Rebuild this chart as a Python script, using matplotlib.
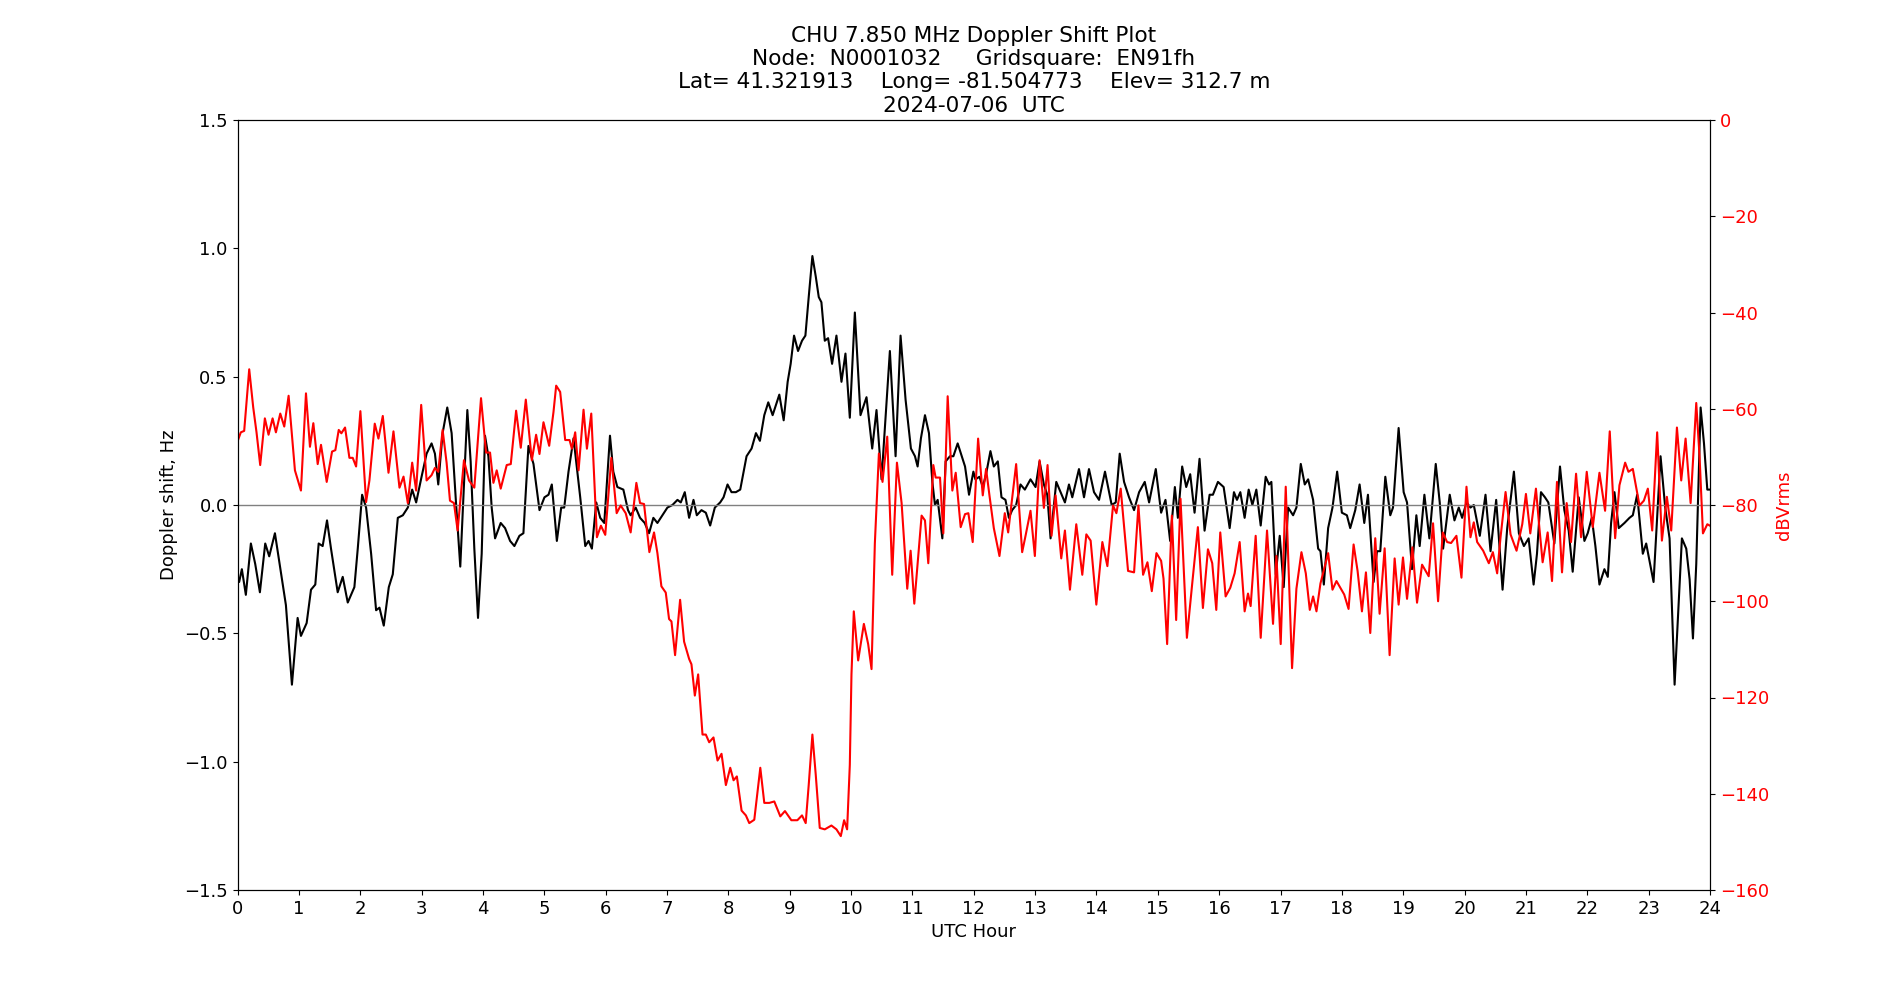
import matplotlib
matplotlib.use("Agg")
import matplotlib.pyplot as plt

plt.rcParams["font.size"] = 13

# ---- Doppler shift (Hz) vs UTC hour ----
dop_hours = [
    0.000, 0.027, 0.071, 0.136, 0.218, 0.289, 0.365, 0.452, 0.517, 0.610, 0.680, 0.789, 0.887, 0.980,
    1.034, 1.127, 1.198, 1.268, 1.323, 1.388, 1.459, 1.524, 1.633, 1.715, 1.797, 1.905, 1.960, 2.031,
    2.096, 2.178, 2.259, 2.314, 2.384, 2.466, 2.531, 2.613, 2.695, 2.776, 2.847, 2.912,
    3.000, 3.082, 3.163, 3.218, 3.272, 3.343, 3.419, 3.490, 3.561, 3.631, 3.691, 3.746, 3.800, 3.860,
    3.920, 3.980, 4.034, 4.089, 4.143, 4.198, 4.290, 4.361, 4.443, 4.513, 4.595, 4.660, 4.742, 4.824,
    4.922, 5.003, 5.069, 5.123, 5.205, 5.276, 5.325, 5.395, 5.477, 5.586, 5.668, 5.722, 5.776, 5.847,
    5.912, 5.978,
    6.071, 6.125, 6.191, 6.289, 6.365, 6.408, 6.490, 6.561, 6.637, 6.708, 6.778, 6.844, 6.925, 7.007,
    7.089, 7.171, 7.225, 7.290, 7.361, 7.432, 7.486, 7.562, 7.633, 7.704, 7.780, 7.867, 7.922, 7.987,
    8.052, 8.123, 8.194, 8.297, 8.379, 8.450, 8.515, 8.586, 8.651, 8.722, 8.831, 8.902, 8.967,
    9.016, 9.071, 9.136, 9.201, 9.256, 9.310, 9.370, 9.425, 9.474, 9.517, 9.572, 9.626, 9.691, 9.762,
    9.844, 9.909, 9.980, 10.062, 10.154, 10.252, 10.345, 10.415, 10.497, 10.562, 10.633, 10.726,
    10.807, 10.889, 10.976, 11.042, 11.085, 11.139, 11.205, 11.270, 11.325, 11.368, 11.412, 11.488,
    11.542, 11.613, 11.668, 11.738, 11.804, 11.858, 11.923, 11.994,
    12.027, 12.093, 12.147, 12.201, 12.272, 12.327, 12.392, 12.452, 12.517, 12.572, 12.626, 12.691,
    12.762, 12.833, 12.925, 13.007, 13.073, 13.143, 13.198, 13.252, 13.345, 13.415, 13.486, 13.552,
    13.606, 13.715, 13.797, 13.878, 13.960, 14.042, 14.139, 14.248, 14.314, 14.379, 14.450, 14.531,
    14.613, 14.695, 14.787, 14.858, 14.967,
    15.054, 15.125, 15.201, 15.278, 15.327, 15.397, 15.463, 15.528, 15.599, 15.680, 15.762, 15.844,
    15.898, 15.980, 16.073, 16.171, 16.241, 16.290, 16.345, 16.415, 16.481, 16.541, 16.606, 16.677,
    16.758, 16.813, 16.851, 16.922, 16.987, 17.052, 17.123, 17.205, 17.259, 17.330, 17.395, 17.450,
    17.531, 17.613, 17.651, 17.706, 17.776, 17.847, 17.923,
    18.000, 18.082, 18.136, 18.218, 18.289, 18.365, 18.425, 18.517, 18.572, 18.626, 18.708, 18.789,
    18.833, 18.925, 19.007, 19.062, 19.143, 19.214, 19.268, 19.345, 19.426, 19.530, 19.595, 19.650,
    19.758, 19.835, 19.905, 19.960, 20.031, 20.096, 20.150, 20.248, 20.341, 20.423, 20.515, 20.619,
    20.695, 20.804, 20.885, 20.967,
    21.044, 21.125, 21.180, 21.245, 21.310, 21.365, 21.463, 21.555, 21.626, 21.697, 21.762, 21.860,
    21.953, 22.007, 22.073, 22.132, 22.198, 22.279, 22.334, 22.388, 22.443, 22.513, 22.606, 22.688,
    22.742, 22.813, 22.905, 22.960, 23.080, 23.194, 23.270, 23.341, 23.423, 23.477, 23.542, 23.613,
    23.668, 23.722, 23.776, 23.847, 23.902, 23.956, 24.000,
]
dop_hz = [
    -0.29, -0.30, -0.25, -0.35, -0.15, -0.23, -0.34, -0.15, -0.20, -0.11, -0.22, -0.39, -0.70, -0.44,
    -0.51, -0.46, -0.33, -0.31, -0.15, -0.16, -0.06, -0.17, -0.34, -0.28, -0.38, -0.32, -0.17, 0.04,
    -0.01, -0.19, -0.41, -0.40, -0.47, -0.32, -0.27, -0.05, -0.04, -0.01, 0.06, 0.01,
    0.11, 0.20, 0.24, 0.20, 0.08, 0.28, 0.38, 0.28, 0.01, -0.24, 0.08, 0.37, 0.17, -0.17,
    -0.44, -0.19, 0.27, 0.19, -0.01, -0.13, -0.07, -0.09, -0.14, -0.16, -0.12, -0.11, 0.23, 0.16,
    -0.02, 0.03, 0.04, 0.08, -0.14, -0.01, -0.01, 0.13, 0.26, 0.03, -0.16, -0.14, -0.17, 0.01,
    -0.05, -0.07,
    0.27, 0.13, 0.07, 0.06, -0.02, -0.04, -0.01, -0.05, -0.07, -0.11, -0.05, -0.07, -0.04, -0.01,
    0.00, 0.02, 0.01, 0.05, -0.05, 0.02, -0.04, -0.02, -0.03, -0.08, -0.01, 0.01, 0.03, 0.08,
    0.05, 0.05, 0.06, 0.19, 0.22, 0.28, 0.25, 0.35, 0.40, 0.35, 0.43, 0.33, 0.48,
    0.55, 0.66, 0.60, 0.64, 0.66, 0.81, 0.97, 0.89, 0.81, 0.79, 0.64, 0.65, 0.55, 0.66,
    0.48, 0.59, 0.34, 0.75, 0.35, 0.42, 0.22, 0.37, 0.10, 0.34, 0.60, 0.19,
    0.66, 0.41, 0.22, 0.19, 0.15, 0.26, 0.35, 0.28, 0.09, 0.00, 0.02, -0.13,
    0.17, 0.19, 0.19, 0.24, 0.19, 0.15, 0.04, 0.13,
    0.10, 0.11, 0.07, 0.12, 0.21, 0.15, 0.17, 0.03, 0.02, -0.05, -0.02, 0.00,
    0.08, 0.06, 0.10, 0.07, 0.17, 0.08, 0.04, -0.13, 0.09, 0.05, 0.01, 0.08,
    0.03, 0.14, 0.03, 0.14, 0.05, 0.02, 0.13, 0.00, 0.01, 0.20, 0.09, 0.03,
    -0.02, 0.05, 0.09, 0.01, 0.14,
    -0.03, 0.02, -0.14, 0.07, -0.05, 0.15, 0.07, 0.12, -0.03, 0.18, -0.10, 0.04,
    0.04, 0.09, 0.07, -0.09, 0.05, 0.02, 0.05, -0.05, 0.06, 0.00, 0.06, -0.08,
    0.11, 0.08, 0.09, -0.27, -0.12, -0.32, -0.01, -0.04, -0.01, 0.16, 0.08, 0.10,
    0.02, -0.17, -0.18, -0.31, -0.09, -0.01, 0.13,
    -0.03, -0.04, -0.09, -0.02, 0.08, -0.07, 0.04, -0.30, -0.18, -0.18, 0.11, -0.04,
    -0.01, 0.30, 0.05, 0.01, -0.25, -0.04, -0.16, 0.04, -0.13, 0.16, 0.01, -0.17,
    0.04, -0.06, -0.01, -0.05, 0.01, -0.01, 0.00, -0.12, 0.04, -0.18, 0.02, -0.33,
    -0.09, 0.13, -0.11, -0.16,
    -0.13, -0.31, -0.19, 0.05, 0.03, 0.01, -0.15, 0.15, -0.02, -0.10, -0.26, 0.03,
    -0.14, -0.11, -0.05, -0.16, -0.31, -0.25, -0.28, -0.07, 0.05, -0.09, -0.07, -0.05,
    -0.04, 0.04, -0.19, -0.15, -0.30, 0.19, -0.01, -0.13, -0.70, -0.44, -0.13, -0.17,
    -0.29, -0.52, -0.23, 0.38, 0.24, 0.06, 0.06,
]

# ---- Signal level (dBVrms) vs UTC hour ----
amp_hours = [
    0.000, 0.054, 0.109, 0.191, 0.256, 0.310, 0.370, 0.446, 0.506, 0.572, 0.626, 0.697, 0.762, 0.833,
    0.936, 1.034, 1.116, 1.181, 1.236, 1.307, 1.361, 1.454, 1.541, 1.595, 1.650, 1.693, 1.753, 1.824,
    1.878, 1.933, 2.003, 2.096, 2.150, 2.237, 2.297, 2.368, 2.461, 2.542, 2.640, 2.706, 2.776, 2.847,
    2.912, 2.994,
    3.082, 3.163, 3.218, 3.272, 3.343, 3.408, 3.463, 3.528, 3.588, 3.691, 3.773, 3.860, 3.969, 4.051,
    4.116, 4.171, 4.225, 4.290, 4.388, 4.454, 4.541, 4.617, 4.699, 4.797, 4.867, 4.922, 4.987, 5.080,
    5.150, 5.194, 5.259, 5.341, 5.412, 5.450, 5.504, 5.559, 5.640, 5.695, 5.766, 5.858, 5.923, 5.994,
    6.093, 6.180, 6.245, 6.327, 6.408, 6.501, 6.561, 6.626, 6.713, 6.789, 6.844, 6.909, 6.980, 7.034,
    7.073, 7.132, 7.214, 7.279, 7.361, 7.399, 7.454, 7.508, 7.579, 7.633, 7.688, 7.758, 7.824, 7.889,
    7.960, 8.031, 8.085, 8.139, 8.216, 8.286, 8.341, 8.423, 8.521, 8.586, 8.668, 8.749, 8.847, 8.923,
    9.027, 9.125, 9.201, 9.261, 9.310, 9.370, 9.425, 9.490, 9.572, 9.680, 9.762, 9.833, 9.887, 9.936,
    9.980, 10.007, 10.045, 10.116, 10.209, 10.279, 10.334, 10.388, 10.454, 10.513, 10.590, 10.671,
    10.748, 10.824, 10.916, 10.971, 11.031, 11.150, 11.205, 11.259, 11.341, 11.379, 11.450, 11.504,
    11.575, 11.651, 11.706, 11.787, 11.858, 11.912, 11.983,
    12.071, 12.147, 12.201, 12.256, 12.327, 12.419, 12.506, 12.561, 12.691, 12.789, 12.844, 12.925,
    12.996, 13.073, 13.143, 13.203, 13.268, 13.334, 13.426, 13.486, 13.568, 13.671, 13.769, 13.835,
    13.905, 13.998, 14.096, 14.178, 14.270, 14.325, 14.395, 14.515, 14.613, 14.684, 14.760, 14.831,
    14.902, 14.978,
    15.054, 15.093, 15.152, 15.229, 15.299, 15.370, 15.474, 15.561, 15.653, 15.735, 15.817, 15.887,
    15.953, 16.018, 16.105, 16.181, 16.252, 16.334, 16.415, 16.470, 16.513, 16.595, 16.677, 16.780,
    16.878, 16.933, 17.003, 17.085, 17.188, 17.259, 17.341, 17.412, 17.477, 17.531, 17.586, 17.651,
    17.776, 17.847, 17.912,
    18.038, 18.109, 18.191, 18.256, 18.327, 18.392, 18.463, 18.544, 18.615, 18.697, 18.778, 18.860,
    18.925, 18.996, 19.062, 19.149, 19.225, 19.307, 19.415, 19.486, 19.568, 19.644, 19.715, 19.780,
    19.867, 19.949, 20.031, 20.096, 20.150, 20.205, 20.303, 20.395, 20.461, 20.531, 20.586, 20.668,
    20.749, 20.847, 20.940,
    21.000, 21.071, 21.163, 21.218, 21.272, 21.354, 21.425, 21.506, 21.588, 21.664, 21.735, 21.817,
    21.898, 21.991, 22.089, 22.198, 22.290, 22.366, 22.454, 22.524, 22.617, 22.671, 22.742, 22.851,
    22.922, 22.987, 23.058, 23.139, 23.216, 23.297, 23.368, 23.461, 23.531, 23.602, 23.684, 23.776,
    23.831, 23.885, 23.956, 24.000,
]
amp_db = [
    -66.8, -64.9, -64.6, -51.8, -59.7, -64.9, -71.7, -62.0, -65.4, -62.0, -64.9, -61.0, -63.7, -57.3,
    -72.8, -77.0, -56.8, -67.9, -63.0, -71.5, -67.5, -75.2, -68.9, -68.6, -64.4, -65.1, -63.9, -70.2,
    -70.2, -72.0, -60.5, -79.4, -74.9, -63.1, -66.2, -61.5, -73.3, -64.7, -76.4, -74.1, -79.6, -71.2,
    -77.0, -59.2,
    -74.9, -73.8, -72.3, -73.1, -64.4, -71.2, -79.1, -79.6, -85.3, -70.7, -74.9, -76.4, -57.8, -69.1,
    -69.1, -75.4, -72.8, -76.6, -71.7, -71.5, -60.4, -68.1, -58.1, -70.7, -65.4, -69.4, -62.8, -67.7,
    -60.7, -55.2, -56.5, -66.5, -66.5, -68.3, -64.9, -72.8, -60.2, -68.3, -61.0, -86.7, -84.3, -86.2,
    -70.2, -81.7, -80.1, -81.7, -85.7, -75.4, -79.6, -79.8, -89.8, -85.7, -90.0, -96.9, -98.2, -103.7,
    -104.2, -111.2, -99.7, -108.4, -112.0, -113.1, -119.6, -115.2, -127.7, -127.7, -129.3, -128.3, -133.1, -131.7,
    -138.2, -134.6, -137.2, -136.4, -143.5, -144.5, -146.1, -145.4, -134.6, -141.9, -141.9, -141.6, -144.7, -143.6,
    -145.5, -145.5, -144.5, -146.1, -138.2, -127.7, -136.1, -147.1, -147.4, -146.6, -147.4, -148.8, -145.5, -147.4,
    -134.0, -115.2, -102.1, -112.3, -104.7, -108.9, -114.1, -88.0, -69.3, -75.2, -65.8, -94.5,
    -71.2, -79.6, -97.4, -89.5, -100.5, -82.2, -83.2, -92.1, -71.7, -74.3, -74.3, -85.9,
    -57.4, -77.0, -73.3, -84.6, -81.9, -81.7, -87.7,
    -66.2, -78.0, -72.5, -78.0, -84.8, -90.6, -81.7, -85.7, -71.5, -89.8, -86.4, -81.2,
    -90.6, -70.7, -80.6, -71.7, -86.4, -78.0, -91.1, -85.3, -97.6, -84.0, -94.5, -86.1,
    -87.4, -100.7, -87.7, -92.7, -80.1, -81.7, -76.6, -93.7, -94.0, -80.1, -94.5, -91.9,
    -97.9, -90.0,
    -91.6, -95.3, -108.9, -82.2, -103.9, -78.7, -107.6, -96.3, -84.6, -101.4, -89.2, -92.1,
    -101.8, -85.7, -99.0, -97.2, -94.2, -87.7, -102.1, -98.4, -101.0, -86.4, -107.6, -85.3,
    -104.7, -90.6, -108.9, -76.2, -113.9, -97.4, -89.8, -94.2, -101.8, -99.0, -102.1, -96.3,
    -90.0, -97.6, -95.8,
    -98.6, -101.6, -88.2, -93.7, -102.1, -94.0, -106.6, -86.9, -102.6, -89.0, -111.2, -91.1,
    -100.7, -90.9, -99.5, -88.8, -100.3, -92.4, -94.8, -83.8, -100.0, -85.7, -87.7, -87.9,
    -86.4, -95.1, -76.2, -86.7, -83.6, -87.7, -89.5, -92.1, -89.8, -94.2, -86.7, -77.3,
    -86.1, -89.5, -84.0,
    -77.7, -85.9, -76.6, -84.6, -91.9, -85.7, -95.8, -75.2, -94.0, -79.6, -87.7, -73.5,
    -86.7, -73.1, -84.6, -73.3, -81.2, -64.7, -86.9, -75.9, -71.2, -73.1, -72.5, -80.1,
    -79.1, -76.6, -85.3, -64.9, -87.4, -78.3, -85.3, -63.9, -74.9, -66.2, -79.6, -58.8,
    -70.2, -85.9, -84.0, -84.3,
]

hour_ticks = list(range(0, 25))
hz_ticks = [-1.5, -1.0, -0.5, 0.0, 0.5, 1.0, 1.5]
db_ticks = [-160, -140, -120, -100, -80, -60, -40, -20, 0]

title_text = ("CHU 7.850 MHz Doppler Shift Plot\n"
              "Node:  N0001032     Gridsquare:  EN91fh\n"
              "Lat= 41.321913    Long= -81.504773    Elev= 312.7 m\n"
              "2024-07-06  UTC")

fig = plt.figure(figsize=(19, 10), dpi=100)
ax = fig.add_subplot(111)
fig.subplots_adjust(left=0.125, right=0.9, bottom=0.11, top=0.88)

ax.plot(dop_hours, dop_hz, color="black", linewidth=1.5)
ax.axhline(0, color="gray", linewidth=1)
ax.set_xlim(0, 24)
ax.set_ylim(-1.5, 1.5)
ax.set_xticks(hour_ticks)
ax.set_yticks(hz_ticks)
ax.set_xlabel("UTC Hour")
ax.set_ylabel("Doppler shift, Hz")
ax.set_title(title_text)

ax2 = ax.twinx()
ax2.plot(amp_hours, amp_db, color="red", linewidth=1.5)
ax2.set_ylim(-160, 0)
ax2.set_yticks(db_ticks)
ax2.set_ylabel("dBVrms", color="red")
ax2.tick_params(axis="y", labelcolor="red")

fig.savefig("out.png", dpi=100)
